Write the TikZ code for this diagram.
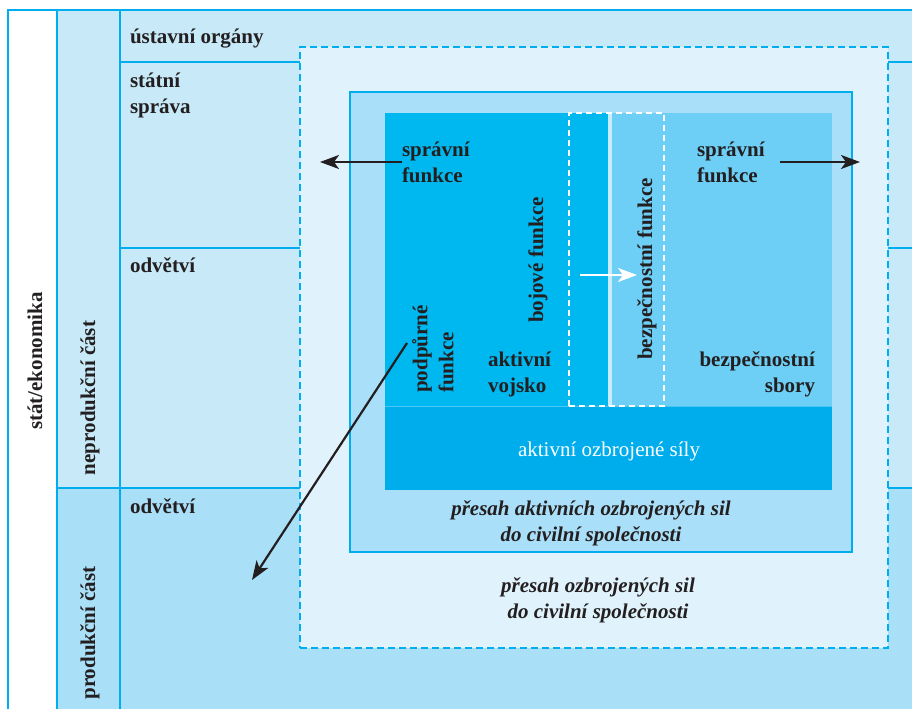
\documentclass[tikz,border=0pt]{standalone}
\usepackage{fontspec}
\setmainfont{Liberation Serif}
\usetikzlibrary{arrows.meta}
\definecolor{cyanline}{HTML}{00AEEF}
\definecolor{lightrow}{HTML}{C7E9F8}
\definecolor{prodrow}{HTML}{AADFF8}
\definecolor{dashfill}{HTML}{E0F3FC}
\definecolor{innerfill}{HTML}{A9DFF8}
\definecolor{coreleft}{HTML}{00B8F0}
\definecolor{coreright}{HTML}{6DCFF6}
\definecolor{barfill}{HTML}{00ADEC}
\definecolor{gapc}{HTML}{C9EBFA}
\definecolor{textc}{HTML}{231F20}
\begin{document}
\begin{tikzpicture}[x=1pt,y=-1pt,
  area/.style={inner sep=0pt, outer sep=0pt, anchor=north west, draw=none},
  frameline/.style={draw=cyanline, line width=2.5pt},
  lab/.style={font=\fontsize{21}{26}\selectfont\bfseries, text=textc, inner sep=0pt, outer sep=0pt},
  itlab/.style={font=\fontsize{21}{26}\selectfont\bfseries\itshape, text=textc, inner sep=0pt, align=center},
  arr/.style={line width=2.2pt, -{Stealth[length=19pt,width=14pt,inset=5pt]}},
]
\path[use as bounding box, fill=white] (0,0) rectangle (912,709);

% background rows
\node[area, fill=lightrow, minimum width=855pt, minimum height=478pt] (nonprod) at (57,10) {};
\node[area, fill=prodrow, minimum width=855pt, minimum height=221pt] (prod) at (57,488) {};

% frame lines
\draw[frameline] (8,709) -- (8,10) -- (912,10);
\draw[frameline] (57,10) -- (57,709);
\draw[frameline] (120,10) -- (120,709);
\draw[frameline] (120,62) -- (912,62);
\draw[frameline] (120,248) -- (912,248);
\draw[frameline] (57,488) -- (912,488);

% overlap (dashed) box
\node[area, fill=dashfill, draw=cyanline, line width=2.5pt, dash pattern=on 7pt off 4pt,
      minimum width=588pt, minimum height=601pt] (overlap) at (300,47) {};
% inner box
\node[area, fill=innerfill, draw=cyanline, line width=2.5pt,
      minimum width=502pt, minimum height=460pt] (inner) at (350,92) {};
% core
\node[area, fill=coreleft, minimum width=225pt, minimum height=293pt] (army) at (385,113) {};
\node[area, fill=coreright, minimum width=220pt, minimum height=293pt] (secur) at (612,113) {};
\node[area, fill=gapc, minimum width=4pt, minimum height=293pt] (gap) at (608,113) {};
\node[area, fill=barfill, minimum width=447pt, minimum height=84pt] (bar) at (385,406) {};
\draw[color=cyanline!70!white, line width=1pt] (bar.north west) -- (bar.north east);
\node[area, draw=white, line width=2pt, dash pattern=on 6pt off 4pt,
      minimum width=95pt, minimum height=293pt] (shared) at (569,113) {};

% left column labels
\node[lab, rotate=90] (stat) at (35,361) {stát/ekonomika};
\node[lab, rotate=90] (neprod) at (90,398) {neprodukční část};
\node[lab, rotate=90] (prodl) at (90,633) {produkční část};

% row labels
\node[lab, anchor=base west] (ust) at (130,44) {ústavní orgány};
\node[lab, anchor=base west, align=left] (sprava) at (130,113) {státní\\správa};
\node[lab, anchor=base west] (odv1) at (130,272) {odvětví};
\node[lab, anchor=base west] (odv2) at (130,513) {odvětví};

% core labels
\node[lab, anchor=base west, align=left] (spravL) at (402,182) {správní\\funkce};
\node[lab, anchor=base west, align=left] (spravR) at (697,182) {správní\\funkce};
\node[lab, anchor=base west, align=left] (vojsko) at (488,392) {aktivní\\vojsko};
\node[lab, anchor=base east, align=right] (sbory) at (815,392) {bezpečnostní\\sbory};
\node[lab, rotate=90] (boj) at (538,260) {bojové funkce};
\node[lab, rotate=90] (bezf) at (647,269) {bezpečnostní funkce};
\node[lab, rotate=90, align=left] (podp) at (433,349) {podpůrné\\funkce};
\node[font=\fontsize{21}{26}\selectfont, text=white, inner sep=0pt] (aos) at (609,451) {aktivní ozbrojené síly};
\node[itlab] (pres1) at (591,523) {přesah aktivních ozbrojených sil\\do civilní společnosti};
\node[itlab] (pres2) at (598,600) {přesah ozbrojených sil\\do civilní společnosti};

% arrows
\coordinate (lA) at (402,162);
\coordinate (lB) at (320,162);
\coordinate (rA) at (780,162);
\coordinate (rB) at (860,162);
\coordinate (wA) at (580,275);
\coordinate (wB) at (637,275);
\coordinate (dA) at (407,343);
\coordinate (dB) at (252,580);
\draw[arr, textc] (lA) -- (lB);
\draw[arr, textc] (rA) -- (rB);
\draw[arr, white] (wA) -- (wB);
\draw[arr, textc] (dA) -- (dB);
\end{tikzpicture}
\end{document}
